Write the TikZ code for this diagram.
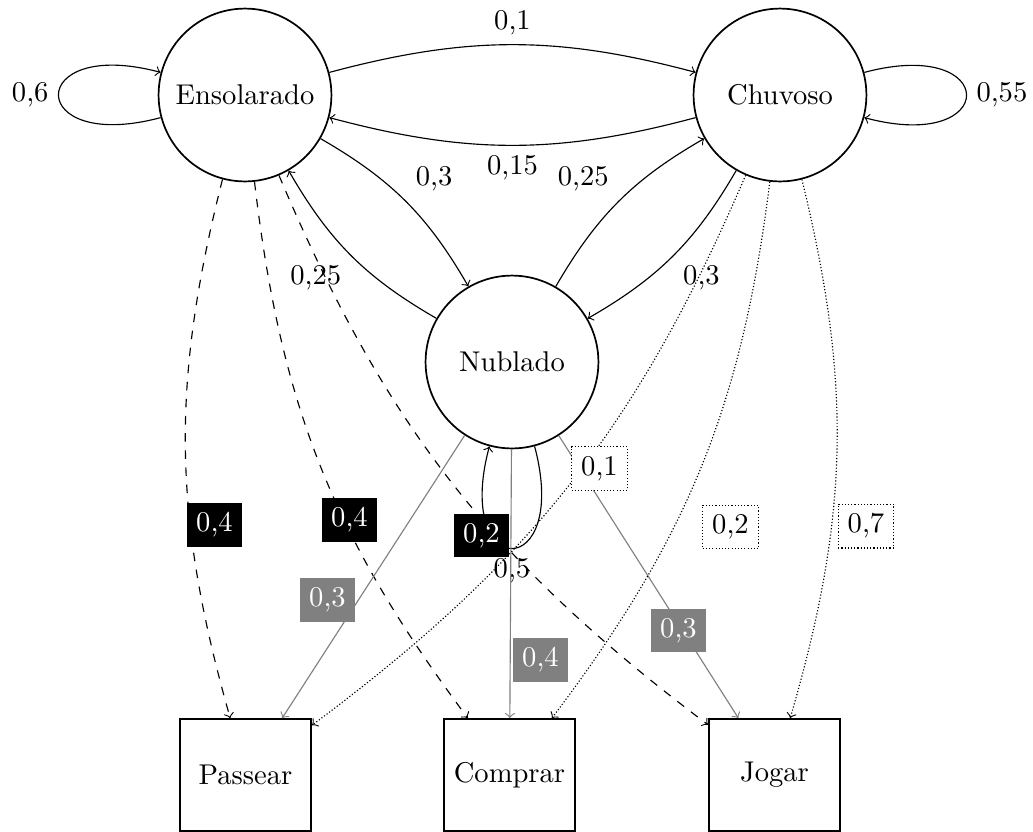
\documentclass[tikz,border=0pt]{standalone}
\begin{document}
\begin{tikzpicture}[x=0.35pt,y=-0.35pt,
  state/.style={circle,draw,semithick,minimum size=60.5pt,inner sep=0pt},
  obs/.style={rectangle,draw,semithick,minimum width=46pt,minimum height=39.2pt,inner sep=0pt},
  mydots/.style={dash pattern=on 0.4pt off 0.72pt},
  ensedge/.style={->,dashed},
  nubedge/.style={->,gray},
  chuedge/.style={->,mydots},
  blk/.style={fill=black,text=white},
  gry/.style={fill=gray,text=white},
  dtb/.style={draw,mydots,fill=white},
]
\useasboundingbox (0,0) rectangle (1033,832);

% states
\node[state] (ens) at (245,95) {Ensolarado};
\node[state] (chu) at (780,95) {Chuvoso};
\node[state] (nub) at (512,362) {Nublado};

% observations
\node[obs] (pas) at (245.5,775) {Passear};
\node[obs] (com) at (509.5,775) {Comprar};
\node[obs] (jog) at (774.5,775) {Jogar};

% transitions
\draw[->] (ens) to[loop left] node[left] (t1) {0,6} (ens);
\draw[->] (chu) to[loop right] node[right] (t2) {0,55} (chu);
\draw[->] (ens) to[bend left=15] node[auto] (t3) {0,1} (chu);
\draw[->] (chu) to[bend left=15] node[auto] (t4) {0,15} (ens);
\draw[->] (ens) to[bend left=15] node[auto] (t5) {0,3} (nub);
\draw[->] (nub) to[bend left=15] node[auto] (t6) {0,25} (ens);
\draw[->] (nub) to[bend left=15] node[auto] (t7) {0,25} (chu);
\draw[->] (chu) to[bend left=15] node[auto] (t8) {0,3} (nub);
\draw[->] (nub) to[out=-75,in=-105,loop] node[below] (t9) {0,5} (nub);

% emissions
\draw[ensedge] (ens) to[bend right=15] (pas);
\draw[ensedge] (ens) to[bend right=15] (com);
\draw[ensedge] (ens) to[bend right=15] (jog);
\draw[nubedge] (nub) -- (pas);
\draw[nubedge] (nub) -- (com);
\draw[nubedge] (nub) -- (jog);
\draw[chuedge] (chu) to[bend left=15] (pas);
\draw[chuedge] (chu) to[bend left=15] (com);
\draw[chuedge] (chu) to[bend left=15] (jog);

% emission labels
\node[blk] (e1) at (214.5,525) {0,4};
\node[blk] (e2) at (349.5,520) {0,4};
\node[blk] (e3) at (481.5,535.5) {0,2};
\node[gry] (n1) at (327.5,600) {0,3};
\node[gry] (n2) at (540.5,660) {0,4};
\node[gry] (n3) at (678.5,630.5) {0,3};
\node[dtb] (c1) at (599.5,468.5) {0,1};
\node[dtb] (c2) at (730.5,527) {0,2};
\node[dtb] (c3) at (866,526) {0,7};
\end{tikzpicture}
\end{document}
